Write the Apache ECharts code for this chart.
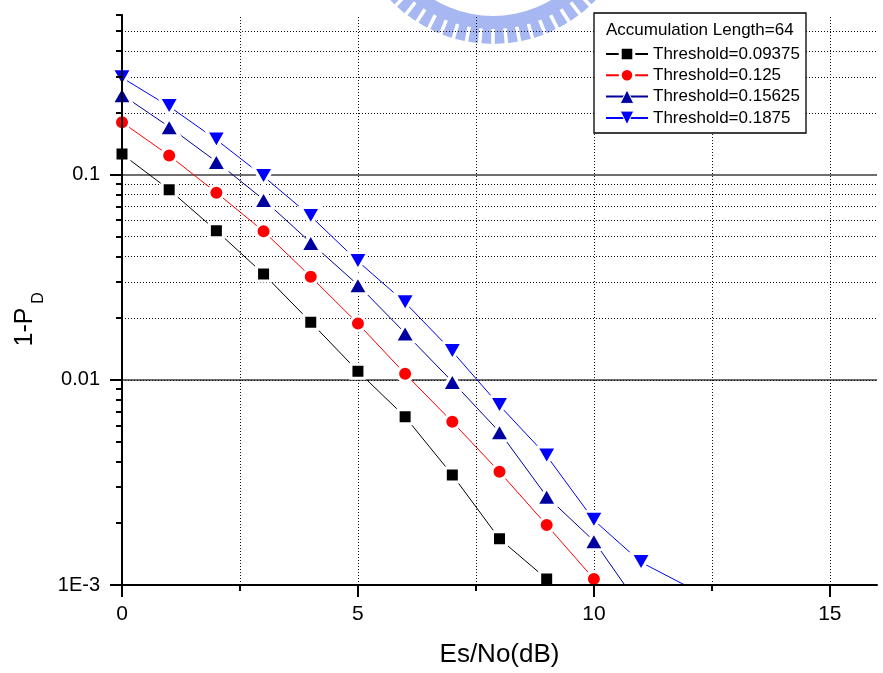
<!DOCTYPE html>
<html>
<head>
<meta charset="utf-8">
<script src="https://cdn.jsdelivr.net/npm/echarts@6/dist/echarts.min.js"></script>
<style>
  html, body { margin: 0; padding: 0; background: #ffffff; }
  #chart { width: 883px; height: 673px; }
</style>
</head>
<body>
<div id="chart"></div>
<script>
// Es/No sweep (dB) and miss probability 1-P_D for each detection threshold
const esNo = [0, 1, 2, 3, 4, 5, 6, 7, 8, 9, 10, 11, 12];
const thr09375 = [0.126, 0.0845, 0.0533, 0.0328, 0.0191, 0.0110, 0.0066, 0.00344, 0.00168, 0.00107];
const thr0125  = [0.180, 0.124, 0.0817, 0.0530, 0.0318, 0.0188, 0.0107, 0.00624, 0.00356, 0.00196, 0.00107];
const thr15625 = [0.245, 0.171, 0.1157, 0.0756, 0.0466, 0.0290, 0.0169, 0.0098, 0.00557, 0.00270, 0.00164, 0.00077];
const thr1875  = [0.297, 0.215, 0.148, 0.098, 0.0627, 0.0378, 0.0238, 0.01375, 0.00750, 0.00426, 0.00207, 0.00129, 0.00098];

const seriesNames = ['Threshold=0.09375', 'Threshold=0.125', 'Threshold=0.15625', 'Threshold=0.1875'];
const legendTitle = 'Accumulation Length=64';
const xTitle = 'Es/No(dB)';

// axis ticks
const xMajorTicks = [0, 5, 10, 15];
const xMinorTicks = [2.5, 7.5, 12.5];
const xGridLines = [2.5, 5, 7.5, 10, 12.5, 15];
const yMajorTicks = [0.001, 0.01, 0.1];
const yTickLabels = ['1E-3', '0.01', '0.1'];
const yMinorTicks = [0.002, 0.003, 0.004, 0.005, 0.006, 0.007, 0.008, 0.009,
                     0.02, 0.03, 0.04, 0.05, 0.06, 0.07, 0.08, 0.09,
                     0.2, 0.3, 0.4, 0.5, 0.6];
const yMinorGridLines = yMinorTicks.filter(v => v < 0.6);
const yMajorGridLines = [0.01, 0.1];

const FONT = '"Liberation Sans", Arial, Helvetica, sans-serif';
const DOWN_TRIANGLE = 'path://M0,0 L13,0 L6.5,11 Z';

function pairs(values) {
  return values.map((v, i) => [esNo[i], v]);
}

function curve(name, values, color, symbol, size, lineColor) {
  return {
    name: name,
    type: 'line',
    data: pairs(values),
    symbol: symbol,
    symbolSize: size,
    showSymbol: true,
    clip: true,
    z: 3,
    lineStyle: { color: lineColor || color, width: 1 },
    itemStyle: { color: color, borderColor: '#ffffff', borderWidth: 3 },
    emphasis: { disabled: true },
    animation: false
  };
}

function yLabel(v) {
  const i = yMajorTicks.findIndex(t => Math.abs(Math.log10(t) - Math.log10(v)) < 1e-6);
  return i >= 0 ? yTickLabels[i] : '';
}

// background emblem: pale ring with notched outer edge
const emblem = [];
emblem.push({
  type: 'ring', silent: true, z: 0,
  shape: { cx: 493, cy: -98, r: 142, r0: 114 },
  style: { fill: '#a6b7f1' }
});
for (let a = 36; a <= 144; a += 5.4) {
  const t = a * Math.PI / 180;
  emblem.push({
    type: 'line', silent: true, z: 0,
    shape: {
      x1: 493 + 127 * Math.cos(t), y1: -98 + 127 * Math.sin(t),
      x2: 493 + 146 * Math.cos(t), y2: -98 + 146 * Math.sin(t)
    },
    style: { stroke: '#ffffff', lineWidth: 3.5 }
  });
}

const gridLineData = []
  .concat(yMajorGridLines.map(v => ({ yAxis: v, lineStyle: { color: '#6e6e6e', width: 2, type: 'solid' } })))
  .concat(yMinorGridLines.map(v => ({ yAxis: v, lineStyle: { color: '#111', width: 1, type: [1, 2] } })))
  .concat(xGridLines.map(v => ({ xAxis: v, lineStyle: { color: '#111', width: 1, type: [1, 2] } })));

const legendBorders = [3, 3, 1, 1];

const option = {
  backgroundColor: '#ffffff',
  animation: false,
  textStyle: { fontFamily: FONT },
  grid: { left: 122, right: 6, top: 15, bottom: 88, containLabel: false, outerBoundsMode: 'none' },
  xAxis: [
    {
      type: 'value', min: 0, max: 16, position: 'bottom', z: 5,
      name: xTitle, nameLocation: 'middle', nameGap: 57,
      nameTextStyle: { fontSize: 26, color: '#000', fontFamily: FONT },
      axisLine: { show: true, onZero: false, lineStyle: { color: '#000', width: 2 } },
      axisTick: { show: true, length: 12, lineStyle: { color: '#000', width: 2 }, customValues: xMajorTicks },
      axisLabel: { customValues: xMajorTicks, fontSize: 21, color: '#000', margin: 19, fontFamily: FONT },
      splitLine: { show: false }
    },
    {
      type: 'value', min: 0, max: 16, position: 'bottom', z: 5,
      axisLine: { show: false },
      axisTick: { show: true, length: 6, lineStyle: { color: '#000', width: 2 }, customValues: xMinorTicks },
      axisLabel: { show: false },
      splitLine: { show: false }
    }
  ],
  yAxis: [
    {
      type: 'log', logBase: 10, min: 0.001, max: 0.6, position: 'left', z: 5,
      axisLine: { show: true, onZero: false, lineStyle: { color: '#000', width: 2 } },
      axisTick: { show: true, length: 12, lineStyle: { color: '#000', width: 2 }, customValues: yMajorTicks },
      axisLabel: { customValues: yMajorTicks, formatter: yLabel, fontSize: 20, color: '#000', margin: 22, fontFamily: FONT },
      splitLine: { show: false },
      minorTick: { show: false },
      minorSplitLine: { show: false }
    },
    {
      type: 'log', logBase: 10, min: 0.001, max: 0.6, position: 'left', z: 5,
      axisLine: { show: false },
      axisTick: { show: true, length: 6, lineStyle: { color: '#000', width: 2 }, customValues: yMinorTicks },
      axisLabel: { show: false },
      splitLine: { show: false }
    }
  ],
  legend: {
    data: seriesNames.map((n, i) => ({
      name: n,
      itemStyle: { borderColor: '#ffffff', borderWidth: legendBorders[i] }
    })),
    orient: 'vertical',
    left: 605, top: 45.5,
    padding: 0,
    itemWidth: 42, itemHeight: 17, itemGap: 4.3,
    textStyle: { fontSize: 17, color: '#000', fontFamily: FONT },
    selectedMode: false,
    z: 12
  },
  graphic: emblem.concat([
    {
      type: 'rect', z: 10, silent: true,
      shape: { x: 594, y: 13, width: 212, height: 120 },
      style: { fill: '#ffffff', stroke: '#000000', lineWidth: 1.3 }
    },
    {
      type: 'text', z: 11, silent: true, x: 606, y: 30.5,
      style: { text: legendTitle, fontSize: 17, fill: '#000', fontFamily: FONT, align: 'left', verticalAlign: 'middle' }
    },
    {
      type: 'text', z: 11, silent: true, x: 25, y: 327, rotation: Math.PI / 2,
      style: { text: '1-P', fontSize: 25, fill: '#000', fontFamily: FONT, align: 'center', verticalAlign: 'middle' }
    },
    {
      type: 'text', z: 11, silent: true, x: 39, y: 298, rotation: Math.PI / 2,
      style: { text: 'D', fontSize: 16, fill: '#000', fontFamily: FONT, align: 'center', verticalAlign: 'middle' }
    }
  ]),
  series: [
    {
      name: 'grid', type: 'line', data: [], silent: true,
      markLine: {
        silent: true, symbol: ['none', 'none'], z: 1, animation: false,
        label: { show: false }, emphasis: { disabled: true },
        data: gridLineData
      }
    },
    curve(seriesNames[0], thr09375, '#000000', 'rect', 14),
    curve(seriesNames[1], thr0125, '#ff0000', 'circle', 15),
    curve(seriesNames[2], thr15625, '#0000a0', 'triangle', [20, 17.5], '#000099'),
    curve(seriesNames[3], thr1875, '#0000ff', DOWN_TRIANGLE, [20, 17.5])
  ]
};

const chart = echarts.init(document.getElementById('chart'), null, { renderer: 'canvas' });
chart.setOption(option);
</script>
</body>
</html>
